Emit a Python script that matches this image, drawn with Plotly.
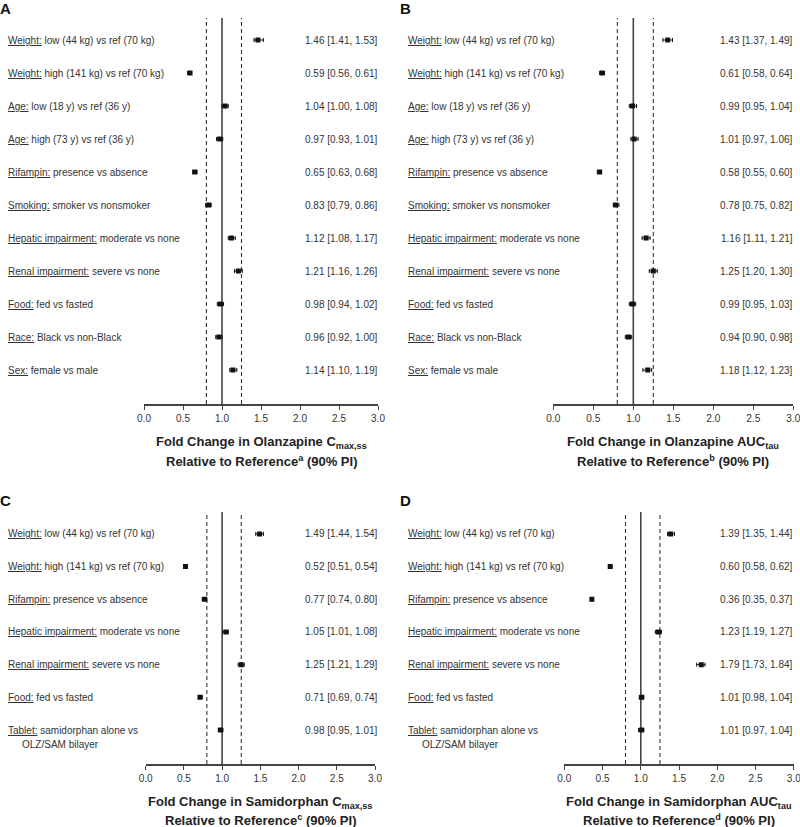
import plotly.graph_objects as go

# ---------------- data ----------------
A_cat = ["Weight", "Weight", "Age", "Age", "Rifampin", "Smoking",
         "Hepatic impairment", "Renal impairment", "Food", "Race", "Sex"]
A_desc = ["low (44 kg) vs ref (70 kg)", "high (141 kg) vs ref (70 kg)",
          "low (18 y) vs ref (36 y)", "high (73 y) vs ref (36 y)",
          "presence vs absence", "smoker vs nonsmoker", "moderate vs none",
          "severe vs none", "fed vs fasted", "Black vs non-Black", "female vs male"]
A_est = [1.46, 0.59, 1.04, 0.97, 0.65, 0.83, 1.12, 1.21, 0.98, 0.96, 1.14]
A_lo = [1.41, 0.56, 1.00, 0.93, 0.63, 0.79, 1.08, 1.16, 0.94, 0.92, 1.10]
A_hi = [1.53, 0.61, 1.08, 1.01, 0.68, 0.86, 1.17, 1.26, 1.02, 1.00, 1.19]

B_cat = A_cat
B_desc = A_desc
B_est = [1.43, 0.61, 0.99, 1.01, 0.58, 0.78, 1.16, 1.25, 0.99, 0.94, 1.18]
B_lo = [1.37, 0.58, 0.95, 0.97, 0.55, 0.75, 1.11, 1.20, 0.95, 0.90, 1.12]
B_hi = [1.49, 0.64, 1.04, 1.06, 0.60, 0.82, 1.21, 1.30, 1.03, 0.98, 1.23]

C_cat = ["Weight", "Weight", "Rifampin", "Hepatic impairment",
         "Renal impairment", "Food", "Tablet"]
C_desc = ["low (44 kg) vs ref (70 kg)", "high (141 kg) vs ref (70 kg)",
          "presence vs absence", "moderate vs none", "severe vs none",
          "fed vs fasted", "samidorphan alone vs\nOLZ/SAM bilayer"]
C_est = [1.49, 0.52, 0.77, 1.05, 1.25, 0.71, 0.98]
C_lo = [1.44, 0.51, 0.74, 1.01, 1.21, 0.69, 0.95]
C_hi = [1.54, 0.54, 0.80, 1.08, 1.29, 0.74, 1.01]

D_cat = C_cat
D_desc = C_desc
D_est = [1.39, 0.60, 0.36, 1.23, 1.79, 1.01, 1.01]
D_lo = [1.35, 0.58, 0.35, 1.19, 1.73, 0.98, 0.97]
D_hi = [1.44, 0.62, 0.37, 1.27, 1.84, 1.04, 1.04]

ref_lines = [0.8, 1.0, 1.25]
tick_vals = [0.0, 0.5, 1.0, 1.5, 2.0, 2.5, 3.0]
tick_text = ["0.0", "0.5", "1.0", "1.5", "2.0", "2.5", "3.0"]

titles = {
    "A": ("Fold Change in Olanzapine C<sub>max,ss</sub>", "Relative to Reference<sup>a</sup> (90% PI)"),
    "B": ("Fold Change in Olanzapine AUC<sub>tau</sub>", "Relative to Reference<sup>b</sup> (90% PI)"),
    "C": ("Fold Change in Samidorphan C<sub>max,ss</sub>", "Relative to Reference<sup>c</sup> (90% PI)"),
    "D": ("Fold Change in Samidorphan AUC<sub>tau</sub>", "Relative to Reference<sup>d</sup> (90% PI)"),
}

# ---------------- layout geometry (pixels) ----------------
W, H = 800, 827
FONT = "Liberation Sans, Arial, sans-serif"
TXT = "#333333"

panels = [
    # key, cats, descs, est, lo, hi, x0px, x1px, ytop, ybot, yrange, label_x, value_x, title_y1, title_y2, letter_y
    ("A", A_cat, A_desc, A_est, A_lo, A_hi, 144, 378, 18, 404, [12.03, 0.333], 8, 378, 442, 461, 8),
    ("B", B_cat, B_desc, B_est, B_lo, B_hi, 553.3, 793.3, 18, 404, [12.03, 0.333], 408, 793, 442, 461, 8),
    ("C", C_cat, C_desc, C_est, C_lo, C_hi, 145.7, 375, 512, 764, [8.04, 0.33], 8, 378, 802, 820, 500),
    ("D", D_cat, D_desc, D_est, D_lo, D_hi, 564.3, 793.8, 512, 764, [8.04, 0.33], 408, 793, 802, 820, 500),
]

fig = go.Figure()
layout = {}
annotations = []
shapes = []

for i, (key, cats, descs, est, lo, hi, x0, x1, yt, yb, yr, lx, vx, ty1, ty2, ly) in enumerate(panels):
    n = i + 1
    xa = "x" if n == 1 else f"x{n}"
    ya = "y" if n == 1 else f"y{n}"
    xname = "xaxis" if n == 1 else f"xaxis{n}"
    yname = "yaxis" if n == 1 else f"yaxis{n}"
    rows = list(range(1, len(cats) + 1))

    layout[xname] = dict(
        domain=[x0 / W, x1 / W], range=[0, 3], anchor=ya, automargin=False,
        tickvals=tick_vals, ticktext=tick_text, ticklabeloverflow="allow",
        showline=True, linecolor="#444444", linewidth=1.5,
        ticks="outside", ticklen=4, tickcolor="#444444", tickwidth=1.2,
        showgrid=False, zeroline=False, fixedrange=True,
        tickfont=dict(family=FONT, size=10, color=TXT),
    )
    layout[yname] = dict(
        domain=[1 - yb / H, 1 - yt / H], range=yr, anchor=xa, automargin=False,
        visible=False, showgrid=False, zeroline=False, fixedrange=True,
    )

    fig.add_trace(go.Scatter(
        x=est, y=rows, xaxis=xa, yaxis=ya, mode="markers",
        marker=dict(symbol="square", size=5, color="#111111"),
        error_x=dict(type="data", symmetric=False,
                     array=[h - e for h, e in zip(hi, est)],
                     arrayminus=[e - l for e, l in zip(est, lo)],
                     color="#111111", thickness=1, width=2),
        showlegend=False, hoverinfo="skip",
    ))

    for v in ref_lines:
        shapes.append(dict(
            type="line", xref=xa, yref=f"{ya} domain", x0=v, x1=v, y0=0, y1=1,
            line=dict(color="#444444" if v == 1.0 else "#333333",
                      width=1.6 if v == 1.0 else 1.1,
                      dash="solid" if v == 1.0 else "4px,3px"),
            layer="below",
        ))

    for r, c, d, e, l, h in zip(rows, cats, descs, est, lo, hi):
        lines = d.split("\n")
        annotations.append(dict(
            xref="paper", yref=ya, x=lx / W, y=r, xanchor="left", yanchor="middle",
            text=f"<u>{c}:</u> {lines[0]}", showarrow=False, borderpad=0, borderwidth=0,
            font=dict(family=FONT, size=10, color=TXT),
        ))
        for k, extra in enumerate(lines[1:]):
            annotations.append(dict(
                xref="paper", yref=ya, x=(lx + 14) / W, y=r, yshift=-14 * (k + 1),
                xanchor="left", yanchor="middle",
                text=extra, showarrow=False, borderpad=0, borderwidth=0,
                font=dict(family=FONT, size=10, color=TXT),
            ))
        annotations.append(dict(
            xref="paper", yref=ya, x=vx / W, y=r, xanchor="right", yanchor="middle",
            text=f"{e:.2f} [{l:.2f}, {h:.2f}]", showarrow=False, borderpad=0, borderwidth=0,
            font=dict(family=FONT, size=10, color=TXT),
        ))

    t1, t2 = titles[key]
    xc = (x0 + x1) / 2 / W
    annotations.append(dict(
        xref="paper", yref="paper", x=xc, y=1 - ty1 / H, xanchor="center", yanchor="middle",
        text=f"<b>{t1}</b>", showarrow=False, borderpad=0, borderwidth=0,
        font=dict(family=FONT, size=13, color="#222222"),
    ))
    annotations.append(dict(
        xref="paper", yref="paper", x=xc, y=1 - ty2 / H, xanchor="center", yanchor="middle",
        text=f"<b>{t2}</b>", showarrow=False, borderpad=0, borderwidth=0,
        font=dict(family=FONT, size=13, color="#222222"),
    ))
    annotations.append(dict(
        xref="paper", yref="paper", x=(0 if key in "AC" else 400) / W, y=1 - ly / H,
        xanchor="left", yanchor="middle", text=f"<b>{key}</b>", showarrow=False,
        borderpad=0, borderwidth=0,
        font=dict(family=FONT, size=15, color="#111111"),
    ))

fig.update_layout(
    width=W, height=H, margin=dict(l=0, r=0, t=0, b=0, pad=0), autosize=False,
    paper_bgcolor="white", plot_bgcolor="white",
    annotations=annotations, shapes=shapes, **layout,
)

fig.write_html(
    "out.html",
    config={"displayModeBar": False},
    post_script="document.body.style.margin='0';document.body.style.padding='0';",
)
